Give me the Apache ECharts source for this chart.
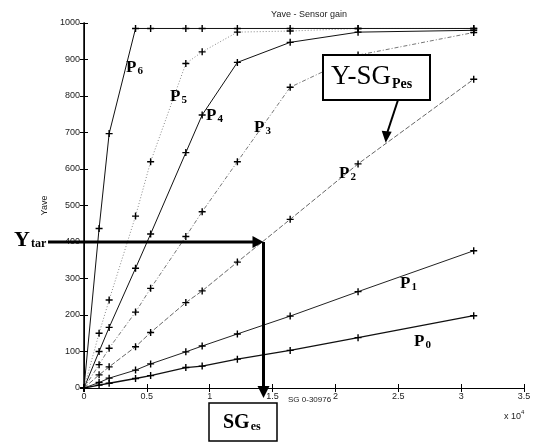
<!DOCTYPE html>
<html>
<head>
<meta charset="utf-8">
<script src="https://cdn.jsdelivr.net/npm/echarts@6/dist/echarts.min.js"></script>
<style>
  html, body { margin: 0; padding: 0; background: #fff; }
  #main { width: 536px; height: 444px; }
</style>
</head>
<body>
<div id="main"></div>
<script>
// sensor gain (x 10^4) shared by every curve
var sg = [0, 0.12, 0.2, 0.41, 0.53, 0.81, 0.94, 1.22, 1.64, 2.18, 3.1];
var p0 = [0, 8, 13, 26, 34, 56, 60, 79, 103, 138, 198];
var p1 = [0, 15, 27, 49, 66, 99, 115, 148, 197, 264, 376];
var p2 = [0, 36, 58, 113, 152, 234, 266, 345, 462, 614, 846];
var p3 = [0, 64, 109, 208, 273, 415, 483, 620, 824, 912, 974];
var p4 = [0, 100, 166, 328, 422, 645, 748, 892, 947, 975, 980];
var p5 = [0, 150, 241, 471, 620, 889, 921, 975, 978, 985, 985];
var p6 = [0, 437, 697, 985, 985, 985, 985, 985, 985, 985, 985];
var yTicks = [0, 100, 200, 300, 400, 500, 600, 700, 800, 900, 1000];
var xTicks = [0, 0.5, 1, 1.5, 2, 2.5, 3, 3.5];

// target value and the gain
var yTar = 400;
var sgEs = 1.42;
var pesAt = [2.40, 672];

var plus = 'path://M4,0h2v4h4v2h-4v4h-2v-4h-4v-2h4z';

function pairs (ys) {
  return sg.map(function (x, i) { return [x, ys[i]]; });
}

function curve (name, ys, color, type, width) {
  return {
    name: name,
    type: 'line',
    data: pairs(ys),
    symbol: plus,
    symbolSize: 7,
    showSymbol: true,
    itemStyle: { color: '#000' },
    lineStyle: { color: color, type: type, width: width },
    animation: false,
    z: 3
  };
}

var axisTxt = { color: '#222', fontSize: 9, fontFamily: 'Liberation Sans' };

var myChart = echarts.init(document.getElementById('main'));

var option = {
  backgroundColor: '#fff',
  animation: false,
  title: {
    text: 'Yave - Sensor gain',
    left: 304,
    top: 5,
    textAlign: 'center',
    textStyle: { fontSize: 9, fontWeight: 'normal', color: '#222', fontFamily: 'Liberation Sans' }
  },
  grid: { left: 84, right: 12, top: 23, bottom: 56, show: false },
  xAxis: [
    {
      type: 'value', min: xTicks[0], max: xTicks[xTicks.length - 1], interval: 0.5,
      axisLine: { show: true, lineStyle: { color: '#000', width: 1 } },
      axisTick: { show: true, inside: true, length: 4, lineStyle: { color: '#000' } },
      axisLabel: Object.assign({ margin: 4, formatter: function (v) { return String(v); } }, axisTxt),
      splitLine: { show: false }
    },
    {
      type: 'value', min: xTicks[0], max: xTicks[xTicks.length - 1], interval: 0.5, position: 'top',
      axisLine: { show: true, lineStyle: { color: '#000', width: 1 } },
      axisTick: { show: true, inside: true, length: 4, lineStyle: { color: '#000' } },
      axisLabel: { show: false },
      splitLine: { show: false }
    }
  ],
  yAxis: [
    {
      type: 'value', min: yTicks[0], max: yTicks[yTicks.length - 1], interval: 100,
      name: 'Yave', nameLocation: 'middle', nameGap: 24, nameRotate: 90,
      nameTextStyle: axisTxt,
      axisLine: { show: true, lineStyle: { color: '#000', width: 1.5 } },
      axisTick: { show: true, inside: true, length: 4, lineStyle: { color: '#000' } },
      axisLabel: Object.assign({ margin: 4, formatter: function (v) { return String(v); } }, axisTxt),
      splitLine: { show: false }
    },
    {
      type: 'value', min: yTicks[0], max: yTicks[yTicks.length - 1], interval: 100, position: 'right',
      axisLine: { show: true, lineStyle: { color: '#000', width: 1 } },
      axisTick: { show: true, inside: true, length: 4, lineStyle: { color: '#000' } },
      axisLabel: { show: false },
      splitLine: { show: false }
    }
  ],
  series: [
    curve('P0', p0, '#111', 'solid', 1.3),
    curve('P1', p1, '#222', 'solid', 1),
    curve('P2', p2, '#555', [5, 2], 0.9),
    curve('P3', p3, '#666', [4, 2, 1, 2], 0.9),
    curve('P4', p4, '#111', 'solid', 1),
    curve('P5', p5, '#888', [1, 2], 1),
    curve('P6', p6, '#111', 'solid', 1)
  ]
};

myChart.setOption(option);

// annotations placed from data coordinates
function px (pt) { return myChart.convertToPixel({ xAxisIndex: 0, yAxisIndex: 0 }, pt); }

function subText (x, y, main, sub, size, subSize, bold, drop) {
  return {
    type: 'text', x: x, y: y, z: 20,
    style: {
      text: '{m|' + main + '}{s|' + sub + '}',
      rich: {
        m: { fontSize: size, lineHeight: size, verticalAlign: 'top', fontFamily: 'Liberation Serif', fontWeight: bold ? 'bold' : 'normal', fill: '#000' },
        s: { fontSize: subSize, lineHeight: subSize, verticalAlign: 'top', fontFamily: 'Liberation Serif', fontWeight: 'bold', fill: '#000', padding: [drop, 0, 0, 1] }
      }
    }
  };
}

function arrowHead (tip, dir, len, half) {
  var pts;
  if (dir === 'right') pts = [[tip[0], tip[1]], [tip[0] - len, tip[1] - half], [tip[0] - len, tip[1] + half]];
  else pts = [[tip[0], tip[1]], [tip[0] - half, tip[1] - len], [tip[0] + half, tip[1] - len]];
  return { type: 'polygon', z: 21, shape: { points: pts }, style: { fill: '#000' } };
}

var tar = px([sgEs, yTar]);
var axisBottom = px([0, 0])[1];
var pes = px(pesAt);

var graphics = [
  // Y_tar horizontal arrow
  { type: 'line', z: 20, shape: { x1: 48, y1: tar[1], x2: tar[0] - 8, y2: tar[1] }, style: { stroke: '#000', lineWidth: 3 } },
  arrowHead([tar[0] + 1, tar[1]], 'right', 11, 6),
  // vertical drop to SG_es
  { type: 'line', z: 20, shape: { x1: tar[0] + 1, y1: tar[1], x2: tar[0] + 1, y2: axisBottom }, style: { stroke: '#000', lineWidth: 3 } },
  arrowHead([tar[0] + 1, axisBottom + 10], 'down', 12, 6),
  // Y-SG_Pes box and arrow
  { type: 'rect', z: 19, shape: { x: 323, y: 55, width: 107, height: 45 }, style: { fill: '#fff', stroke: '#000', lineWidth: 2 } },
  subText(331, 63, 'Y-SG', 'Pes', 27, 14, false, 14),
  { type: 'line', z: 20, shape: { x1: 398, y1: 100, x2: pes[0] + 1.5, y2: pes[1] - 10 }, style: { stroke: '#000', lineWidth: 2 } },
  { type: 'polygon', z: 21, shape: { points: [[pes[0], pes[1]], [pes[0] - 4, pes[1] - 12], [pes[0] + 6, pes[1] - 11]] }, style: { fill: '#000' } },
  // SG_es box
  { type: 'rect', z: 19, shape: { x: 209, y: 403, width: 68, height: 38 }, style: { fill: '#fff', stroke: '#000', lineWidth: 1.5 } },
  subText(223, 413, 'SG', 'es', 20, 12, true, 8),
  // Y_tar text
  subText(14, tar[1] - 13, 'Y', 'tar', 22, 12, true, 9),
  // curve labels
  subText(126, 59, 'P', '6', 17, 11, true, 7),
  subText(170, 88, 'P', '5', 17, 11, true, 7),
  subText(206, 107, 'P', '4', 17, 11, true, 7),
  subText(254, 119, 'P', '3', 17, 11, true, 7),
  subText(339, 165, 'P', '2', 17, 11, true, 7),
  subText(400, 275, 'P', '1', 17, 11, true, 7),
  subText(414, 333, 'P', '0', 17, 11, true, 7),
  // x label and exponent
  { type: 'text', x: 288, y: 396, z: 20, style: { text: 'SG 0-30976', fontSize: 8, fontFamily: 'Liberation Sans', fill: '#222' } },
  { type: 'text', x: 504, y: 409, z: 20, style: { text: '{a|x 10}{b|4}', rich: { a: { fontSize: 9, verticalAlign: 'top', fontFamily: 'Liberation Sans', fill: '#222', padding: [3, 0, 0, 0] }, b: { fontSize: 6, verticalAlign: 'top', fontFamily: 'Liberation Sans', fill: '#222' } } } }
];

myChart.setOption({ graphic: graphics });
</script>
</body>
</html>
